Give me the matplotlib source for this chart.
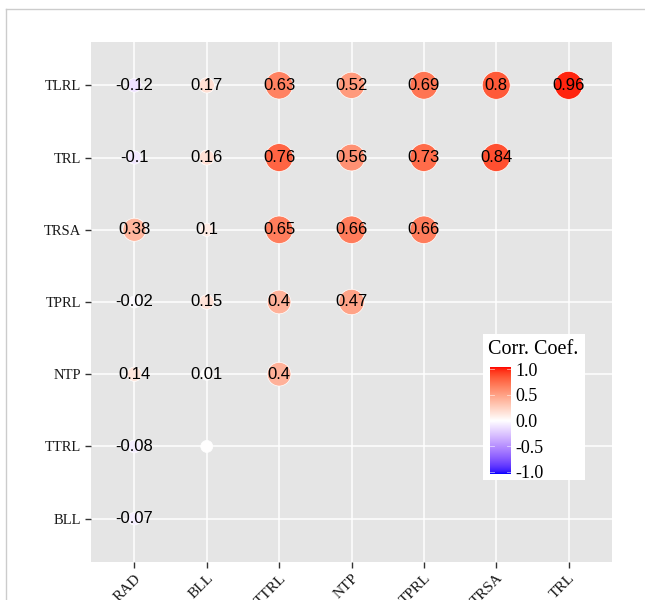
import numpy as np
import matplotlib.pyplot as plt
from matplotlib.colors import ListedColormap, Normalize
from matplotlib.patches import Rectangle
from matplotlib.lines import Line2D

# correlation matrix, lower triangle
rows = ["TLRL", "TRL", "TRSA", "TPRL", "NTP", "TTRL", "BLL"]
cols = ["RAD", "BLL", "TTRL", "NTP", "TPRL", "TRSA", "TRL"]

r_tlrl = [-0.12, 0.17, 0.63, 0.52, 0.69, 0.8, 0.96]
r_trl = [-0.1, 0.16, 0.76, 0.56, 0.73, 0.84]
r_trsa = [0.38, 0.1, 0.65, 0.66, 0.66]
r_tprl = [-0.02, 0.15, 0.4, 0.47]
r_ntp = [0.14, 0.01, 0.4]
r_ttrl = [-0.08, 0.0]
r_bll = [-0.07]
coef = [r_tlrl, r_trl, r_trsa, r_tprl, r_ntp, r_ttrl, r_bll]

cbar_ticks = [1.0, 0.5, 0.0, -0.5, -1.0]


# ggplot's gradient2 mixes colours in Lab space, do the same here
def rgb2lab(c):
    c = np.asarray(c, float)
    lin = np.where(c > 0.04045, ((c + 0.055) / 1.055) ** 2.4, c / 12.92)
    m = np.array([[0.4124, 0.3576, 0.1805],
                  [0.2126, 0.7152, 0.0722],
                  [0.0193, 0.1192, 0.9505]])
    xyz = m @ lin / np.array([0.95047, 1.0, 1.08883])
    f = np.where(xyz > 0.008856, np.cbrt(xyz), 7.787 * xyz + 16 / 116)
    return np.array([116 * f[1] - 16, 500 * (f[0] - f[1]), 200 * (f[1] - f[2])])


def lab2rgb(lab):
    L, a, b = lab
    fy = (L + 16) / 116
    fx = fy + a / 500
    fz = fy - b / 200
    f = np.array([fx, fy, fz])
    xyz = np.where(f ** 3 > 0.008856, f ** 3, (f - 16 / 116) / 7.787)
    xyz = xyz * np.array([0.95047, 1.0, 1.08883])
    m = np.array([[3.2406, -1.5372, -0.4986],
                  [-0.9689, 1.8758, 0.0415],
                  [0.0557, -0.2040, 1.0570]])
    lin = m @ xyz
    c = np.where(lin > 0.0031308, 1.055 * np.abs(lin) ** (1 / 2.4) - 0.055, 12.92 * lin)
    return np.clip(c, 0, 1)


low, mid, high = rgb2lab([0, 0, 1]), rgb2lab([1, 1, 1]), rgb2lab([1, 0, 0])
colors = []
for t in np.linspace(-1, 1, 256):
    if t < 0:
        lab = mid + (low - mid) * (-t)
    else:
        lab = mid + (high - mid) * t
    colors.append(lab2rgb(lab))
cmap = ListedColormap(colors)
norm = Normalize(-1, 1)

serif = "Liberation Serif"
sans = "Liberation Sans"

fig = plt.figure(figsize=(6.45, 6.0), dpi=100)
fig.add_artist(Line2D([6 / 645, 1], [1 - 9 / 600] * 2, color="#cccccc", lw=1))
fig.add_artist(Line2D([6 / 645] * 2, [0, 1 - 9 / 600], color="#cccccc", lw=1))

ax = fig.add_axes([91 / 645, 38 / 600, 521 / 645, 520 / 600])
ax.set_facecolor("#E5E5E5")
for s in ax.spines.values():
    s.set_visible(False)

xs, ys, vs = [], [], []
for i, row in enumerate(coef):
    for j, v in enumerate(row):
        xs.append(j + 1)
        ys.append(len(rows) - i)
        vs.append(v)
xs = np.array(xs)
ys = np.array(ys)
vs = np.array(vs)

# circle diameter in px grows with |r| and levels off
d_px = 12 + 16 * (1 - np.exp(-(np.abs(vs) / 0.35) ** 2))
sizes = (d_px * 0.72) ** 2

ax.scatter(xs, ys, c=vs, cmap=cmap, norm=norm, s=sizes,
           edgecolors="white", linewidths=0.5, zorder=3)

for x, y, v in zip(xs, ys, vs):
    if v == 0:
        continue
    ax.text(x, y, f"{v:g}", ha="center", va="center", fontsize=12,
            family=sans, color="black", zorder=4)

ax.set_xlim(0.4, 7.6)
ax.set_ylim(0.4, 7.6)
ax.set_xticks(range(1, len(cols) + 1))
ax.set_xticklabels(cols, rotation=45, ha="right", va="top",
                   rotation_mode="anchor", family=serif, fontsize=11)
ax.set_yticks(range(len(rows), 0, -1))
ax.set_yticklabels(rows, family=serif, fontsize=10.5)
ax.tick_params(length=4, width=1, color="#333333", labelcolor="#1a1a1a", pad=3)
ax.grid(True, color="white", lw=1.1)
ax.set_axisbelow(True)

# legend box with colour bar
fig.add_artist(Rectangle((483 / 645, 1 - 480 / 600), 102 / 645, 146 / 600,
                         transform=fig.transFigure, facecolor="white",
                         edgecolor="none", zorder=1))
fig.text(488 / 645, 1 - 350 / 600, "Corr. Coef.", family=serif, fontsize=14.5,
         ha="left", va="center", zorder=3)
cax = fig.add_axes([490 / 645, 1 - 474 / 600, 21 / 645, 107 / 600], zorder=2)
grad = np.linspace(-1, 1, 256).reshape(-1, 1)
cax.imshow(grad, cmap=cmap, norm=norm, aspect="auto", origin="lower",
           extent=(0, 1, -1.04, 1.04))
for t in cbar_ticks:
    cax.plot([0, 0.2], [t, t], color="white", lw=0.6, alpha=0.6)
    cax.plot([0.8, 1], [t, t], color="white", lw=0.6, alpha=0.6)
cax.set_xlim(0, 1)
cax.set_ylim(-1.04, 1.04)
cax.set_xticks([])
cax.yaxis.tick_right()
cax.set_yticks(cbar_ticks)
cax.set_yticklabels([f"{t:.1f}" for t in cbar_ticks], family=serif, fontsize=13)
cax.tick_params(length=0, pad=3)
for s in cax.spines.values():
    s.set_visible(False)

fig.savefig("out.png", dpi=100)
